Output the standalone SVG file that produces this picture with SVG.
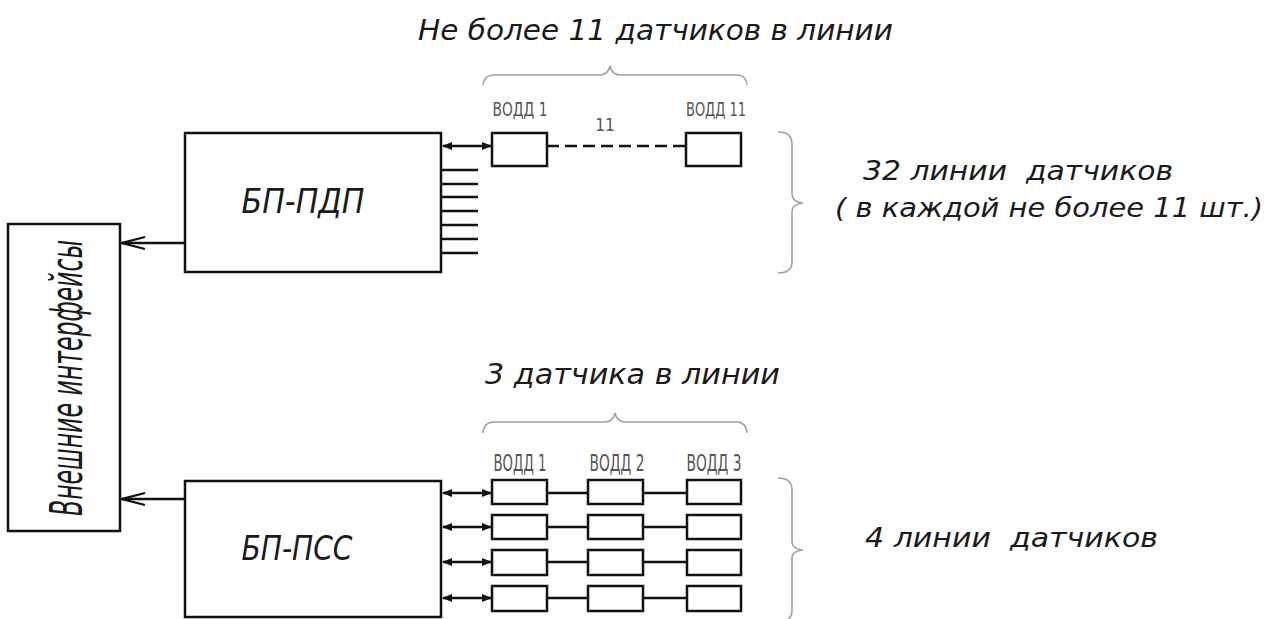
<svg xmlns="http://www.w3.org/2000/svg" width="1284" height="619" viewBox="0 0 1284 619">
<style>
.box{fill:#fff;stroke:#111;stroke-width:2.5}
.sbox{fill:#fff;stroke:#111;stroke-width:2.5}
.ln{stroke:#111;stroke-width:2.5;fill:none}
.brace{stroke:#a0a0a0;stroke-width:1.6;fill:none}
.it{font-family:"DejaVu Sans","Liberation Sans",sans-serif;font-style:oblique;fill:#1a1a1a}
.lab{font-family:"DejaVu Sans Condensed","DejaVu Sans","Liberation Sans",sans-serif;fill:#555}
</style>
<defs>
<marker id="open" markerWidth="26" markerHeight="16" refX="25" refY="8" orient="auto" markerUnits="userSpaceOnUse">
<path d="M2,2 L25,8 L2,14" fill="none" stroke="#111" stroke-width="2.2"/>
</marker>
<marker id="fill" markerWidth="10" markerHeight="8" refX="9" refY="4" orient="auto-start-reverse" markerUnits="userSpaceOnUse">
<path d="M0,0 L10,4 L0,8 Z" fill="#111"/>
</marker>
</defs>
<rect width="1284" height="619" fill="#fff"/>

<g id="ext">
<rect class="box" x="8" y="224" width="112" height="307"/>
<text class="it" transform="translate(82,378) rotate(-90)" text-anchor="middle" font-size="44" textLength="276" lengthAdjust="spacingAndGlyphs">Внешние интерфейсы</text>
</g>

<g id="bp-pdp">
<rect class="box" x="185" y="133" width="256" height="139"/>
<text class="it" x="303" y="213" text-anchor="middle" font-size="34" textLength="123" lengthAdjust="spacingAndGlyphs">БП-ПДП</text>
</g>

<g id="bp-pss">
<rect class="box" x="185" y="481" width="256" height="136"/>
<text class="it" x="297" y="560" text-anchor="middle" font-size="34" textLength="111" lengthAdjust="spacingAndGlyphs">БП-ПСС</text>
</g>

<g id="vodd1-top">
<rect class="sbox" x="492" y="133" width="55" height="33"/>
<text class="lab" x="520" y="116" text-anchor="middle" font-size="19" textLength="55" lengthAdjust="spacingAndGlyphs">ВОДД 1</text>
</g>
<g id="vodd11-top">
<rect class="sbox" x="686" y="133" width="55" height="33"/>
<text class="lab" x="716" y="116" text-anchor="middle" font-size="19" textLength="60" lengthAdjust="spacingAndGlyphs">ВОДД 11</text>
</g>

<g id="pss-sensors">
<rect class="sbox" x="492" y="480" width="55" height="24"/>
<rect class="sbox" x="588" y="480" width="55" height="24"/>
<rect class="sbox" x="687" y="480" width="54" height="24"/>
<rect class="sbox" x="492" y="515" width="55" height="24"/>
<rect class="sbox" x="588" y="515" width="55" height="24"/>
<rect class="sbox" x="687" y="515" width="54" height="24"/>
<rect class="sbox" x="492" y="550" width="55" height="25"/>
<rect class="sbox" x="588" y="550" width="55" height="25"/>
<rect class="sbox" x="687" y="550" width="54" height="25"/>
<rect class="sbox" x="492" y="586" width="55" height="25"/>
<rect class="sbox" x="588" y="586" width="55" height="25"/>
<rect class="sbox" x="687" y="586" width="54" height="25"/>
<text class="lab" x="520" y="471" text-anchor="middle" font-size="23" textLength="53" lengthAdjust="spacingAndGlyphs">ВОДД 1</text>
<text class="lab" x="617" y="471" text-anchor="middle" font-size="23" textLength="55" lengthAdjust="spacingAndGlyphs">ВОДД 2</text>
<text class="lab" x="714" y="471" text-anchor="middle" font-size="23" textLength="55" lengthAdjust="spacingAndGlyphs">ВОДД 3</text>
</g>

<g id="connectors">
<line class="ln" x1="185" y1="243" x2="122" y2="243" marker-end="url(#open)"/>
<line class="ln" x1="185" y1="499" x2="122" y2="499" marker-end="url(#open)"/>
<line class="ln" x1="443" y1="146" x2="491" y2="146" marker-start="url(#fill)" marker-end="url(#fill)"/>
<line class="ln" x1="547" y1="146" x2="686" y2="146" stroke-dasharray="12,6"/>
<g class="ln">
<line x1="441" y1="170" x2="478" y2="170"/>
<line x1="441" y1="184" x2="478" y2="184"/>
<line x1="441" y1="197" x2="478" y2="197"/>
<line x1="441" y1="211" x2="478" y2="211"/>
<line x1="441" y1="225" x2="478" y2="225"/>
<line x1="441" y1="239" x2="478" y2="239"/>
<line x1="441" y1="253" x2="478" y2="253"/>
</g>
<line class="ln" x1="443" y1="493" x2="491" y2="493" marker-start="url(#fill)" marker-end="url(#fill)"/>
<line class="ln" x1="443" y1="527" x2="491" y2="527" marker-start="url(#fill)" marker-end="url(#fill)"/>
<line class="ln" x1="443" y1="562" x2="491" y2="562" marker-start="url(#fill)" marker-end="url(#fill)"/>
<line class="ln" x1="443" y1="598" x2="491" y2="598" marker-start="url(#fill)" marker-end="url(#fill)"/>
<g class="ln">
<line x1="547" y1="493" x2="588" y2="493"/>
<line x1="643" y1="493" x2="687" y2="493"/>
<line x1="547" y1="527" x2="588" y2="527"/>
<line x1="643" y1="527" x2="687" y2="527"/>
<line x1="547" y1="562" x2="588" y2="562"/>
<line x1="643" y1="562" x2="687" y2="562"/>
<line x1="547" y1="598" x2="588" y2="598"/>
<line x1="643" y1="598" x2="687" y2="598"/>
</g>
</g>

<g id="annotations">
<path class="brace" d="M483,85 Q484,75 494,75 L600,75 Q608,75 610,66 Q612,75 620,75 L737,75 Q746,75 747,85"/>
<path class="brace" d="M483,433 Q484,422 494,422 L605,422 Q613,422 615,413 Q617,422 625,422 L737,422 Q746,422 747,433"/>
<path class="brace" d="M778,132 Q792,132 792,144 L792,194 Q792,202 803,203 Q792,204 792,212 L792,262 Q792,273 778,273"/>
<path class="brace" d="M778,478 Q792,478 792,490 L792,542 Q792,549 803,550 Q792,551 792,558 L792,610 Q792,622 778,622"/>
<text class="it" x="418" y="40" font-size="28" textLength="475" lengthAdjust="spacingAndGlyphs">Не более 11 датчиков в линии</text>
<text class="it" x="485" y="384" font-size="28" textLength="295" lengthAdjust="spacingAndGlyphs">3 датчика в линии</text>
<text class="lab" x="605" y="131" text-anchor="middle" font-size="17">11</text>
<text class="it" x="863" y="180" font-size="27" textLength="310" lengthAdjust="spacingAndGlyphs" xml:space="preserve">32 линии  датчиков</text>
<text class="it" x="835" y="217" font-size="27" textLength="428" lengthAdjust="spacingAndGlyphs">( в каждой не более 11 шт.)</text>
<text class="it" x="865" y="547" font-size="27" textLength="293" lengthAdjust="spacingAndGlyphs" xml:space="preserve">4 линии  датчиков</text>
</g>
</svg>
